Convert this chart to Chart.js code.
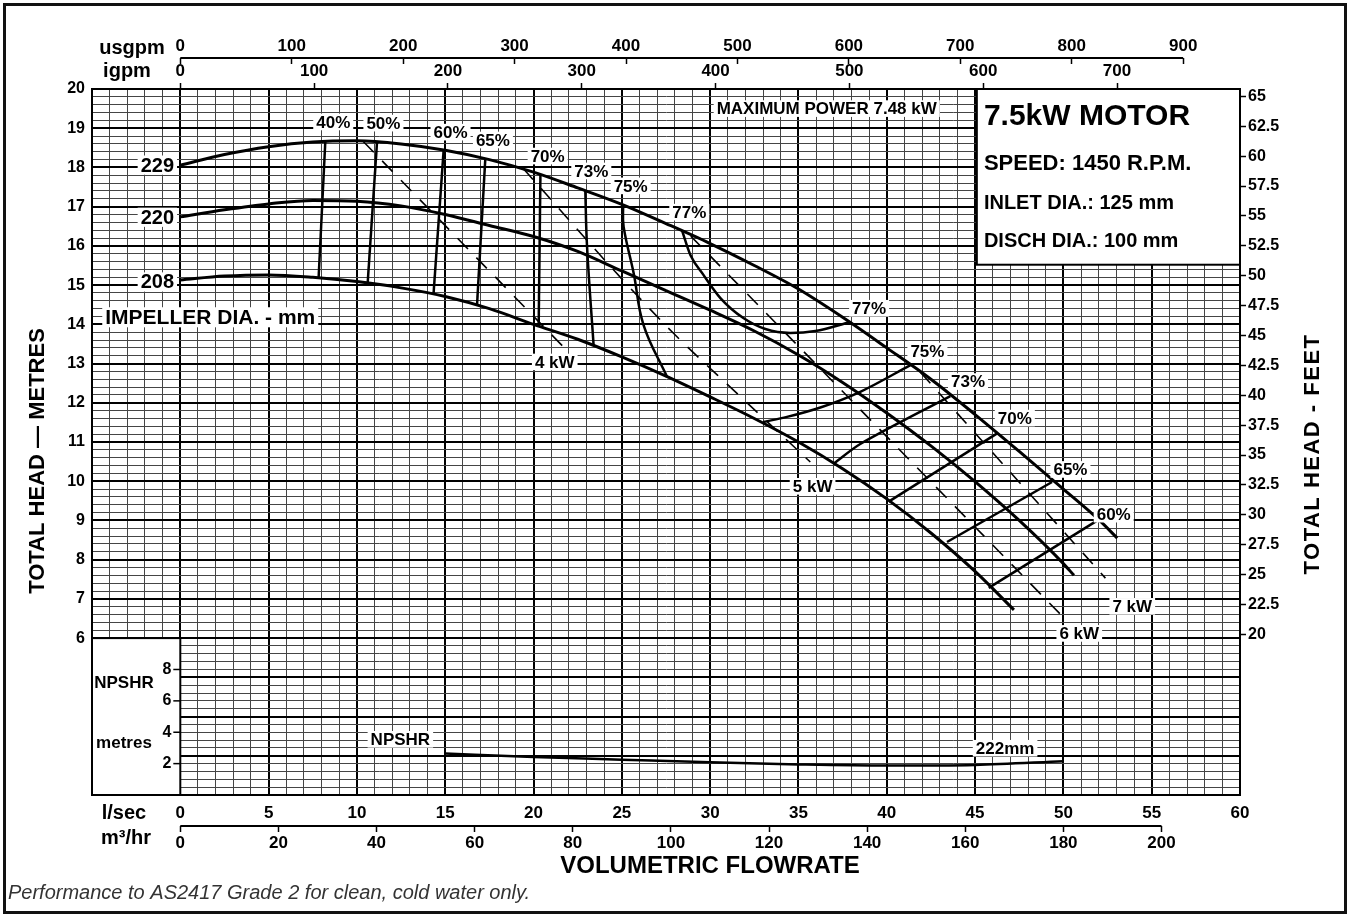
<!DOCTYPE html>
<html>
<head>
<meta charset="utf-8">
<script src="https://cdn.jsdelivr.net/npm/chart.js@4.4.1/dist/chart.umd.min.js"></script>
<style>
  html, body { margin: 0; padding: 0; background: #fff; }
  #wrap { width: 1350px; height: 916px; }
</style>
</head>
<body>
<div id="wrap"><canvas id="pump" width="1350" height="916"></canvas></div>
<script>
// Pump performance chart - 7.5kW motor, 1450 rpm
const FONT = '"Liberation Sans", Arial, sans-serif';

// unit conversions, all flows stored in l/sec, heads in metres
const USGPM_PER_LS = 15.8503;
const IGPM_PER_LS = 13.1982;
const M3HR_PER_LS = 3.6;
const FT_PER_M = 3.28084;

const flowMin = -5, flowMax = 60;
const headMin = 2, headMax = 20;

// tick labels
const flowTicks = [0, 5, 10, 15, 20, 25, 30, 35, 40, 45, 50, 55, 60];
const usgpmTicks = [0, 100, 200, 300, 400, 500, 600, 700, 800, 900];
const igpmTicks = [0, 100, 200, 300, 400, 500, 600, 700];
const m3hrTicks = [0, 20, 40, 60, 80, 100, 120, 140, 160, 180, 200];
const headTicks = [6, 7, 8, 9, 10, 11, 12, 13, 14, 15, 16, 17, 18, 19, 20];
const feetTicks = [20, 22.5, 25, 27.5, 30, 32.5, 35, 37.5, 40, 42.5, 45, 47.5, 50, 52.5, 55, 57.5, 60, 62.5, 65];
const npshrTicks = [2, 4, 6, 8];

// impeller curves (flow l/sec, head m)
const q229 = [0, 2.5, 5, 7.5, 10, 12.5, 15, 17.5, 20, 22.5, 25, 27.5, 30, 32.5, 35, 37.5, 40, 42.5, 45, 47.5, 50, 52, 53.05];
const h229 = [18.06, 18.33, 18.53, 18.65, 18.68, 18.6, 18.44, 18.2, 17.88, 17.48, 17.06, 16.57, 16.06, 15.5, 14.9, 14.18, 13.4, 12.6, 11.7, 10.76, 9.8, 9.02, 8.55];
const q220 = [0, 2.5, 5, 7.5, 10, 12.5, 15, 17.5, 20, 22.5, 25, 27.5, 30, 32.5, 35, 37.5, 40, 42.5, 45, 47.5, 50, 50.6];
const h220 = [16.74, 16.92, 17.07, 17.16, 17.14, 17.02, 16.8, 16.52, 16.24, 15.86, 15.36, 14.86, 14.36, 13.83, 13.22, 12.52, 11.74, 10.9, 9.99, 9.0, 7.9, 7.6];
const q208 = [0, 2.5, 5, 7.5, 10, 12.5, 15, 17.5, 20, 22.5, 25, 27.5, 30, 32.5, 35, 37.5, 40, 42.5, 45, 47.2];
const h208 = [15.13, 15.23, 15.26, 15.2, 15.09, 14.93, 14.71, 14.4, 14.0, 13.62, 13.17, 12.68, 12.15, 11.6, 11.0, 10.32, 9.55, 8.68, 7.7, 6.72];

// iso-efficiency lines
const qE40 = [8.21, 7.83], hE40 = [18.66, 15.18];
const qE50 = [11.14, 10.61], hE50 = [18.66, 15.07];
const qE60a = [14.91, 14.34], hE60a = [18.44, 14.79];
const qE65a = [17.27, 16.8], hE65a = [18.23, 14.49];
const qE70a = [20.39, 20.29], hE70a = [17.82, 13.94];
const qE73a = [22.93, 23.03, 23.4], hE73a = [17.42, 15.98, 13.47];
const qE75a = [25.07, 25.1, 25.67, 26.23, 27.56], hE75a = [17.04, 16.49, 15.3, 13.98, 12.66];
const qE77 = [28.41, 28.88, 29.62, 30.58, 31.88, 33.13, 34.54, 35.96, 37.94];
const hE77 = [16.39, 15.77, 15.26, 14.67, 14.16, 13.88, 13.78, 13.83, 14.06];
const qE75b = [33.0, 34.35, 36.24, 38.5, 41.34], hE75b = [11.51, 11.64, 11.88, 12.28, 12.96];
const qE73b = [37.0, 38.5, 43.6], hE73b = [10.45, 10.95, 12.17];
const qE70b = [40.11, 46.25], hE70b = [9.48, 11.22];
const qE65b = [43.41, 49.36], hE65b = [8.45, 9.98];
const qE60b = [45.77, 52.0], hE60b = [7.28, 9.02];

// absorbed power lines
const qP4 = [10.36, 21.7], hP4 = [18.66, 13.42];
const qP5 = [19.4, 20.67, 24.63, 27.84, 31.52, 35.67], hP5 = [17.98, 17.34, 15.34, 13.81, 12.24, 10.49];
const qP6 = [28.9, 50.0], hP6 = [16.25, 6.53];
const qP7 = [41.9, 52.38], hP7 = [12.78, 7.53];

// NPSHR (metres) for 222mm
const qNpshr = [15, 20, 25, 30, 35, 40, 45, 50];
const nNpshr = [2.65, 2.42, 2.25, 2.08, 1.95, 1.88, 1.92, 2.15];

// text notes placed on the chart: [text, flow, value, size]
const headNotes = [
  ['229', -1.3, 18.06, 20], ['220', -1.3, 16.73, 20], ['208', -1.3, 15.08, 20],
  ['40%', 8.66, 19.16, 17], ['50%', 11.5, 19.13, 17], ['60%', 15.3, 18.9, 17],
  ['65%', 17.7, 18.7, 17], ['70%', 20.8, 18.29, 17], ['73%', 23.27, 17.91, 17],
  ['75%', 25.5, 17.53, 17], ['77%', 28.82, 16.86, 17],
  ['77%', 39.0, 14.41, 17], ['75%', 42.3, 13.32, 17], ['73%', 44.6, 12.54, 17],
  ['70%', 47.25, 11.61, 17], ['65%', 50.4, 10.3, 17], ['60%', 52.85, 9.16, 17],
  ['4 kW', 21.2, 13.04, 17], ['5 kW', 35.8, 9.87, 17], ['6 kW', 50.9, 6.12, 17], ['7 kW', 53.9, 6.81, 17],
  ['MAXIMUM POWER 7.48 kW', 36.6, 19.5, 17]
];
const npshrNotes = [['NPSHR', 12.46, 3.55, 17], ['222mm', 46.7, 2.98, 17]];
const motorLines = [['7.5kW MOTOR', 19.3, 30], ['SPEED: 1450 R.P.M.', 18.1, 22], ['INLET DIA.: 125 mm', 17.07, 20], ['DISCH DIA.: 100 mm', 16.1, 20]];

function pts(q, h) { return q.map((v, i) => ({ x: v, y: h[i] })); }
function line(q, h, opts) {
  return Object.assign({ data: pts(q, h), showLine: true, borderColor: '#000', borderWidth: 2.5,
    pointRadius: 0, fill: false, tension: 0 }, opts || {});
}
function range(a, b, step) {
  const out = [];
  for (let v = a; v <= b + 1e-9; v += step) out.push(+v.toFixed(2));
  return out;
}
const isWhole = (v, n) => Math.abs(v / n - Math.round(v / n)) < 1e-6;

const curveStyle = { borderWidth: 3, cubicInterpolationMode: 'monotone' };
const dashStyle = { borderWidth: 1.6, borderDash: [15, 12] };

const datasets = [
  line(q229, h229, curveStyle), line(q220, h220, curveStyle), line(q208, h208, curveStyle),
  line(qE40, hE40), line(qE50, hE50), line(qE60a, hE60a), line(qE65a, hE65a), line(qE70a, hE70a),
  line(qE73a, hE73a, { tension: 0.4 }), line(qE75a, hE75a, { tension: 0.4 }),
  line(qE77, hE77, { cubicInterpolationMode: 'monotone' }),
  line(qE75b, hE75b, { cubicInterpolationMode: 'monotone' }), line(qE73b, hE73b, { tension: 0.3 }),
  line(qE70b, hE70b), line(qE65b, hE65b), line(qE60b, hE60b),
  line(qP4, hP4, dashStyle), line(qP5, hP5, Object.assign({ cubicInterpolationMode: 'monotone' }, dashStyle)),
  line(qP6, hP6, dashStyle), line(qP7, hP7, dashStyle),
  line(qNpshr, nNpshr, { yAxisID: 'yN', borderWidth: 2.5, cubicInterpolationMode: 'monotone' })
];

function boxText(ctx, text, px, py, size, align) {
  ctx.font = `bold ${size}px ${FONT}`;
  const w = ctx.measureText(text).width;
  const h = size * 0.86;
  const left = align === 'left' ? px : px - w / 2;
  ctx.fillStyle = '#fff';
  ctx.fillRect(left - 3, py - h / 2 - 1, w + 6, h + 2);
  ctx.fillStyle = '#000';
  ctx.textAlign = 'left';
  ctx.textBaseline = 'middle';
  ctx.fillText(text, left, py + 1);
}
function text(ctx, str, px, py, font, align) {
  ctx.font = font;
  ctx.textAlign = align || 'center';
  ctx.textBaseline = 'middle';
  ctx.fillStyle = '#000';
  ctx.fillText(str, px, py);
}

const decor = {
  id: 'decor',
  beforeDraw(chart) {
    const ctx = chart.ctx;
    ctx.save();
    ctx.fillStyle = '#fff';
    ctx.fillRect(0, 0, chart.width, chart.height);
    ctx.restore();
  },
  beforeDatasetsDraw(chart) {
    const { ctx, scales: { x, y } } = chart;
    ctx.save();
    ctx.strokeStyle = '#000';
    ctx.lineWidth = 2;
    // blank caption box for the NPSHR section
    let l = x.getPixelForValue(flowMin), r = x.getPixelForValue(0);
    let t = y.getPixelForValue(6), b = y.getPixelForValue(headMin);
    ctx.fillStyle = '#fff';
    ctx.fillRect(l, t, r - l, b - t);
    ctx.strokeRect(l, t, r - l, b - t);
    // motor data panel
    l = x.getPixelForValue(45.1); r = x.getPixelForValue(flowMax);
    t = y.getPixelForValue(headMax); b = y.getPixelForValue(15.52);
    ctx.fillRect(l, t, r - l, b - t);
    ctx.strokeRect(l, t, r - l, b - t);
    ctx.restore();
  },
  afterDatasetsDraw(chart) {
    const { ctx, scales: { x, y, yN } } = chart;
    ctx.save();
    headNotes.forEach(([s, q, h, size]) => boxText(ctx, s, x.getPixelForValue(q), y.getPixelForValue(h), size));
    npshrNotes.forEach(([s, q, n, size]) => boxText(ctx, s, x.getPixelForValue(q), yN.getPixelForValue(n), size));
    boxText(ctx, 'IMPELLER DIA. - mm', x.getPixelForValue(-4.25), y.getPixelForValue(14.18), 21, 'left');
    motorLines.forEach(([s, h, size]) => text(ctx, s, x.getPixelForValue(45.5), y.getPixelForValue(h), `bold ${size}px ${FONT}`, 'left'));

    // NPSHR scale inside the plot, left of zero flow
    const x0 = x.getPixelForValue(0);
    ctx.strokeStyle = '#000';
    ctx.lineWidth = 1.5;
    npshrTicks.forEach(n => {
      const py = yN.getPixelForValue(n);
      ctx.beginPath(); ctx.moveTo(x0 - 7, py); ctx.lineTo(x0, py); ctx.stroke();
      text(ctx, String(n), x0 - 9, py, `bold 16px ${FONT}`, 'right');
    });
    text(ctx, 'NPSHR', 124, yN.getPixelForValue(7.1), `bold 17px ${FONT}`);
    text(ctx, 'metres', 124, yN.getPixelForValue(3.3), `bold 17px ${FONT}`);
    ctx.restore();
  },
  afterDraw(chart) {
    const { ctx, scales: { xUS, xM3 } } = chart;
    ctx.save();
    ctx.strokeStyle = '#000';
    ctx.lineWidth = 2;
    // base lines of the usgpm and m3/hr scales
    let yl = xUS.bottom - 6;
    ctx.beginPath(); ctx.moveTo(xUS.getPixelForValue(0), yl); ctx.lineTo(xUS.getPixelForValue(900), yl); ctx.stroke();
    yl = xM3.top;
    ctx.beginPath(); ctx.moveTo(xM3.getPixelForValue(0), yl); ctx.lineTo(xM3.getPixelForValue(200), yl); ctx.stroke();

    const bold20 = `bold 20px ${FONT}`;
    text(ctx, 'usgpm', 132, 48, bold20);
    text(ctx, 'igpm', 127, 71, bold20);
    text(ctx, 'l/sec', 124, 813, bold20);
    text(ctx, 'm³/hr', 126, 838, bold20);
    text(ctx, 'VOLUMETRIC FLOWRATE', 710, 866, `bold 24px ${FONT}`);

    ctx.save();
    ctx.translate(38, 461); ctx.rotate(-Math.PI / 2);
    text(ctx, 'TOTAL HEAD — METRES', 0, 0, `bold 22px ${FONT}`);
    ctx.restore();
    ctx.save();
    ctx.translate(1313, 454); ctx.rotate(-Math.PI / 2);
    ctx.letterSpacing = '1.5px';
    text(ctx, 'TOTAL HEAD - FEET', 0, 0, `bold 22px ${FONT}`);
    ctx.restore();

    ctx.fillStyle = '#333';
    ctx.font = `italic 20px ${FONT}`;
    ctx.textAlign = 'left';
    ctx.textBaseline = 'middle';
    ctx.fillText('Performance to AS2417 Grade 2 for clean, cold water only.', 8, 893);

    ctx.lineWidth = 3;
    ctx.strokeStyle = '#111';
    ctx.strokeRect(4.5, 4.5, 1341, 908);
    ctx.restore();
  }
};

const tickFont = { size: 17, weight: 'bold' };
const sideFont = { size: 16, weight: 'bold' };
const setTicks = arr => s => { s.ticks = arr.map(v => ({ value: v })); };
const outerTicks = { drawOnChartArea: false, drawTicks: true, tickLength: 6, tickColor: '#000', tickWidth: 1.5 };

Chart.defaults.font.family = FONT;
Chart.defaults.color = '#000';

new Chart(document.getElementById('pump'), {
  type: 'scatter',
  data: { datasets },
  options: {
    responsive: false,
    animation: false,
    devicePixelRatio: 1,
    layout: { padding: 0 },
    plugins: { legend: { display: false }, tooltip: { enabled: false } },
    scales: {
      x: {
        type: 'linear', position: 'bottom', weight: 0, min: flowMin, max: flowMax,
        afterBuildTicks: setTicks(range(flowMin, flowMax, 1)),
        afterFit: s => { s.height = 31; },
        ticks: { autoSkip: false, maxRotation: 0, padding: 8, font: tickFont,
          callback: v => flowTicks.includes(v) ? String(v) : '' },
        grid: { drawTicks: false, color: c => (c.tick && isWhole(c.tick.value, 5)) ? '#000' : '#454545',
          lineWidth: c => (c.tick && isWhole(c.tick.value, 5)) ? 2 : 1 },
        border: { color: '#000', width: 2 }
      },
      xM3: {
        type: 'linear', position: 'bottom', weight: 1,
        min: flowMin * M3HR_PER_LS, max: flowMax * M3HR_PER_LS,
        afterBuildTicks: setTicks(m3hrTicks),
        afterFit: s => { s.height = 90; },
        ticks: { autoSkip: false, maxRotation: 0, padding: 1, font: tickFont },
        grid: outerTicks,
        border: { display: false }
      },
      xIG: {
        type: 'linear', position: 'top', weight: 0,
        min: flowMin * IGPM_PER_LS, max: flowMax * IGPM_PER_LS,
        afterBuildTicks: setTicks(igpmTicks),
        afterFit: s => { s.height = 25; },
        ticks: { autoSkip: false, maxRotation: 0, padding: 1, font: tickFont },
        grid: outerTicks,
        border: { color: '#000', width: 2 }
      },
      xUS: {
        type: 'linear', position: 'top', weight: 1,
        min: flowMin * USGPM_PER_LS, max: flowMax * USGPM_PER_LS,
        afterBuildTicks: setTicks(usgpmTicks),
        afterFit: s => { s.height = 64; },
        ticks: { autoSkip: false, maxRotation: 0, padding: 1, font: tickFont },
        grid: outerTicks,
        border: { display: false }
      },
      y: {
        type: 'linear', position: 'left', min: headMin, max: headMax,
        afterBuildTicks: setTicks(range(headMin, headMax, 0.2)),
        afterFit: s => { s.width = 92; },
        ticks: { autoSkip: false, padding: 7, font: sideFont,
          callback: v => headTicks.includes(v) ? String(v) : '' },
        grid: { drawTicks: false, color: c => (c.tick && isWhole(c.tick.value, 1)) ? '#000' : '#454545',
          lineWidth: c => (c.tick && isWhole(c.tick.value, 1)) ? 2 : 1 },
        border: { color: '#000', width: 2 }
      },
      yFt: {
        type: 'linear', position: 'right', min: headMin * FT_PER_M, max: headMax * FT_PER_M,
        afterBuildTicks: setTicks(feetTicks),
        afterFit: s => { s.width = 110; },
        ticks: { autoSkip: false, padding: 2, font: sideFont, callback: v => String(v) },
        grid: Object.assign({}, outerTicks, { tickLength: 6 }),
        border: { color: '#000', width: 2 }
      },
      yN: {
        type: 'linear', position: 'left', display: false,
        min: 0, max: (headMax - headMin) * 2.5
      }
    }
  },
  plugins: [decor]
});
</script>
</body>
</html>
